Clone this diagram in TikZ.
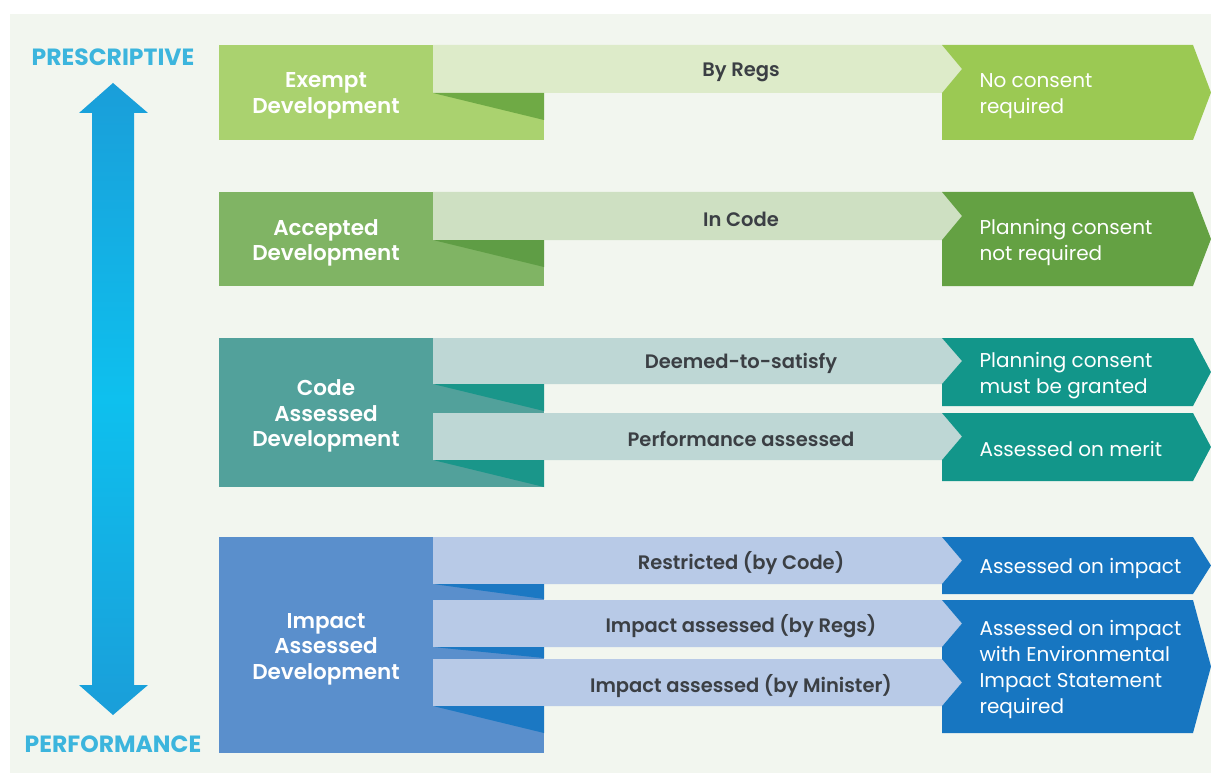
\documentclass[tikz,border=0pt]{standalone}
\usepackage{fontspec}
\setmainfont{Poppins}[BoldFont={Poppins SemiBold}]
\newfontfamily\axisfont{Poppins}[UprightFont={Poppins Bold}]
\begin{document}
\begin{tikzpicture}[x=1pt,y=-1pt]
\definecolor{bg}{HTML}{F2F6EF}
\definecolor{aL}{HTML}{AAD26F}\definecolor{aB}{HTML}{DDEBC9}\definecolor{aT}{HTML}{6FAA45}\definecolor{aR}{HTML}{9BC953}
\definecolor{bL}{HTML}{80B464}\definecolor{bB}{HTML}{CEE0C2}\definecolor{bT}{HTML}{5F9D45}\definecolor{bR}{HTML}{64A143}
\definecolor{cL}{HTML}{52A19B}\definecolor{cB}{HTML}{BED7D5}\definecolor{cT}{HTML}{1A968A}\definecolor{cR}{HTML}{12968A}
\definecolor{dL}{HTML}{5A8FCC}\definecolor{dB}{HTML}{B8CAE7}\definecolor{dT}{HTML}{1B78C3}\definecolor{dR}{HTML}{1776C1}
\definecolor{txt}{HTML}{3B3F44}
\definecolor{lab}{HTML}{3CB5DD}
\definecolor{arrE}{HTML}{1A9ED9}\definecolor{arrM}{HTML}{0EC0EE}
\tikzset{
  lefttext/.style={text=white,align=center,font=\fontsize{21.5}{25.5}\selectfont\bfseries},
  bandtext/.style={text=txt,font=\fontsize{19.5}{24}\selectfont\bfseries},
  outtext/.style={text=white,align=left,anchor=west,font=\fontsize{20}{26}\selectfont},
  axislabel/.style={text=lab,font=\fontsize{23.5}{28}\selectfont\axisfont},
}
\useasboundingbox (0,0) rectangle (1211,773);
\fill[white] (0,0) rectangle (1211,773);
\fill[bg] (10,14) rectangle (1211,773);
% vertical arrow
\shade[top color=arrE,bottom color=arrE,middle color=arrM]
 (113,83) -- (148,113) -- (134,113) -- (134,685) -- (148,685) -- (113,715) -- (79,685) -- (92,685) -- (92,113) -- (79,113) -- cycle;
\node[axislabel] (presc) at (113,57) {PRESCRIPTIVE};
\node[axislabel] (perf) at (113,744) {PERFORMANCE};
% ---------- row 1
\fill[aL] (219,45) rectangle (544,140);
\fill[aB] (433,45) -- (942,45) -- (962,69) -- (942,93) -- (433,93) -- cycle;
\fill[aT] (433,93) -- (544,93) -- (544,120) -- cycle;
\fill[aR] (942,45) -- (1193,45) -- (1211,92.5) -- (1193,140) -- (942,140) -- (942,93) -- (962,69) -- cycle;
\node[lefttext] (exempt) at (326,96) {Exempt\\Development};
\node[bandtext] (byregs) at (741,72) {By Regs};
\node[outtext] (noc) at (976,96) {No consent\\required};
% ---------- row 2
\fill[bL] (219,192) rectangle (544,286);
\fill[bB] (433,192) -- (942,192) -- (962,216) -- (942,240) -- (433,240) -- cycle;
\fill[bT] (433,240) -- (544,240) -- (544,267) -- cycle;
\fill[bR] (942,192) -- (1193,192) -- (1211,239) -- (1193,286) -- (942,286) -- (942,240) -- (962,216) -- cycle;
\node[lefttext] (accepted) at (326,243) {Accepted\\Development};
\node[bandtext] (incode) at (741,219) {In Code};
\node[outtext] (pcnr) at (976,242.5) {Planning consent\\not required};
% ---------- row 3
\fill[cL] (219,338) rectangle (544,487);
\fill[cB] (433,338) -- (942,338) -- (962,361) -- (942,384) -- (433,384) -- cycle;
\fill[cT] (433,384) -- (544,384) -- (544,411) -- cycle;
\fill[cB] (433,413) -- (942,413) -- (962,436.5) -- (942,460) -- (433,460) -- cycle;
\fill[cT] (433,460) -- (544,460) -- (544,487) -- cycle;
\fill[cR] (942,338) -- (1193,338) -- (1211,372) -- (1193,406) -- (942,406) -- (942,384) -- (962,361) -- cycle;
\fill[cR] (942,413) -- (1193,413) -- (1211,447) -- (1193,481) -- (942,481) -- (942,460) -- (962,436.5) -- cycle;
\node[lefttext] (codeass) at (326,416) {Code\\Assessed\\Development};
\node[bandtext] (dts) at (741,363) {Deemed-to-satisfy};
\node[bandtext] (perfass) at (741,439) {Performance assessed};
\node[outtext] (pcmg) at (976,375.5) {Planning consent\\must be granted};
\node[outtext] (merit) at (976,449) {Assessed on merit};
% ---------- row 4
\fill[dL] (219,537) rectangle (544,753);
\fill[dB] (433,537) -- (942,537) -- (962,560.5) -- (942,584) -- (433,584) -- cycle;
\fill[dT] (433,584) -- (544,584) -- (544,599) -- cycle;
\fill[dB] (433,600) -- (942,600) -- (962,623.5) -- (942,647) -- (433,647) -- cycle;
\fill[dT] (433,647) -- (544,647) -- (544,658) -- cycle;
\fill[dB] (433,659) -- (942,659) -- (962,682.5) -- (942,706) -- (433,706) -- cycle;
\fill[dT] (433,706) -- (544,706) -- (544,733) -- cycle;
\fill[dR] (942,537) -- (1193,537) -- (1211,565.5) -- (1193,594) -- (942,594) -- (942,584) -- (962,560.5) -- cycle;
\fill[dR] (942,600) -- (1193,600) -- (1211,666.5) -- (1193,733) -- (942,733) -- (942,706) -- (962,682.5) -- (942,659) -- (942,647) -- (962,623.5) -- cycle;
\node[lefttext] (impass) at (326,649) {Impact\\Assessed\\Development};
\node[bandtext] (restr) at (741,563) {Restricted (by Code)};
\node[bandtext] (iaregs) at (741,626) {Impact assessed (by Regs)};
\node[bandtext] (iamin) at (741,686) {Impact assessed (by Minister)};
\node[outtext] (aoi) at (976,568) {Assessed on impact};
\node[outtext] (aoieis) at (976,669.5) {Assessed on impact\\with Environmental\\Impact Statement\\required};
\end{tikzpicture}
\end{document}
